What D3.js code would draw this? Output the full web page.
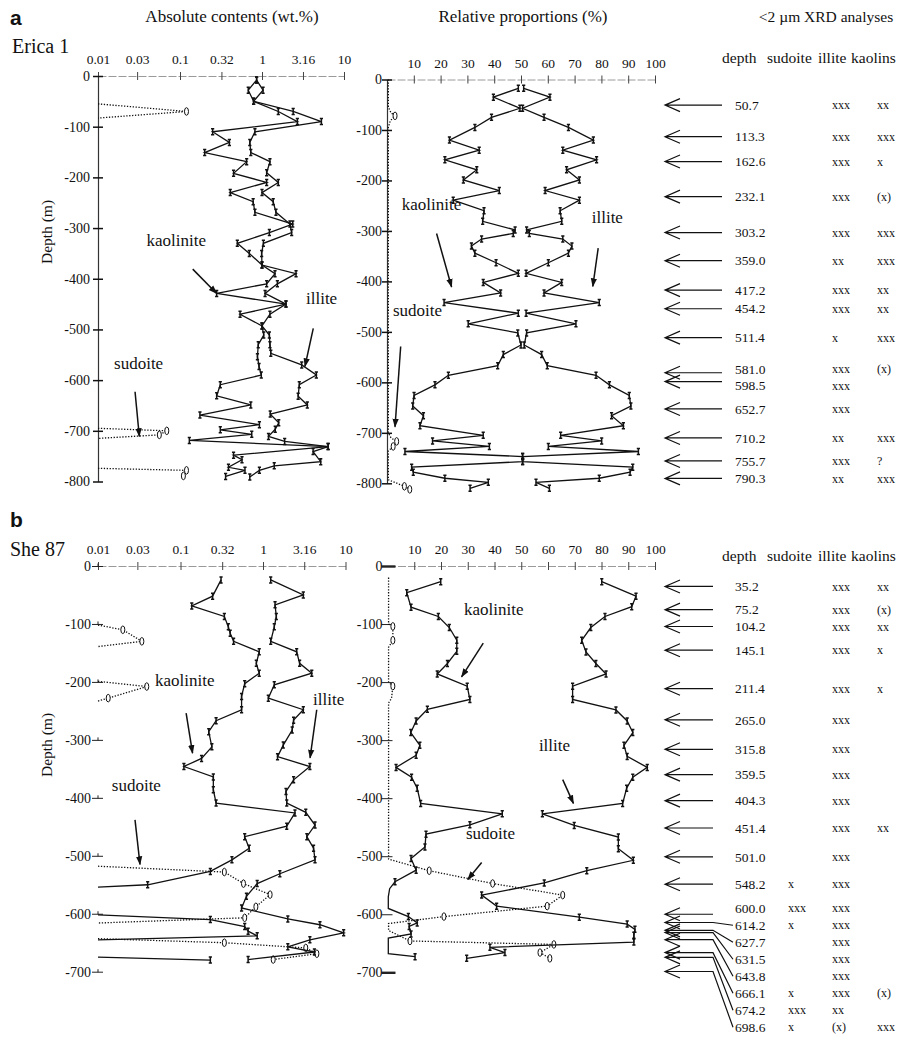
<!DOCTYPE html>
<html>
<head>
<meta charset="utf-8">
<script src="https://cdn.jsdelivr.net/npm/d3@7"></script>
<style>
  body { margin: 0; background: #fff; }
  svg { display: block; }
  text { font-family: "Liberation Serif", "Times New Roman", serif; fill: #111; }
</style>
</head>
<body>
<svg id="chart" width="916" height="1042"></svg>
<script>
// ---------- shared tick values ----------
const absTicks = [0.01, 0.03, 0.1, 0.32, 1, 3.16, 10]
const relTicks = [10, 20, 30, 40, 50, 60, 70, 80, 90, 100]
const depthTicksA = [0, 100, 200, 300, 400, 500, 600, 700, 800]
const depthTicksB = [0, 100, 200, 300, 400, 500, 600, 700]

// ---------- a : Erica 1, absolute contents (wt.%) ----------
const absKaolDepthA = [8, 28, 50, 70, 90, 110, 131, 151, 169, 192, 210, 230, 248, 269, 292, 309, 330, 350, 373, 390, 410, 429, 450, 470, 493, 511, 530, 554, 573, 590, 609, 631, 649, 669, 688, 698, 707, 719, 731, 748, 757, 772, 778, 790]
const absKaolA = [0.86, 0.68, 0.79, 1.58, 2.7, 0.25, 0.4, 0.2, 0.65, 0.45, 1.14, 0.41, 0.78, 0.82, 2.37, 1.23, 0.5, 0.7, 1.0, 1.44, 1.14, 0.28, 1.96, 0.54, 1.0, 1.05, 0.9, 0.88, 0.92, 0.98, 0.31, 0.28, 0.73, 0.175, 0.93, 0.31, 0.75, 0.13, 6.4, 0.45, 0.57, 0.39, 0.62, 0.36]
const absIlliteDepthA = [8, 28, 50, 70, 90, 110, 131, 151, 169, 191, 210, 230, 248, 269, 292, 309, 330, 350, 373, 390, 410, 429, 450, 470, 493, 511, 530, 547, 570, 590, 609, 632, 649, 667, 684, 697, 711, 721, 731, 741, 761, 769, 778, 791]
const absIlliteA = [0.86, 1.03, 0.79, 2.4, 5.3, 0.82, 0.71, 0.73, 1.25, 1.14, 1.58, 1.0, 1.37, 1.48, 2.19, 2.3, 1.04, 0.99, 1.0, 2.6, 1.54, 1.09, 1.96, 1.25, 1.0, 1.23, 1.25, 1.28, 3.05, 4.6, 2.85, 2.76, 3.57, 1.26, 1.6, 1.45, 1.2, 1.89, 6.4, 4.2, 5.2, 1.41, 0.93, 0.71]
// null = break in the dotted line, 0.01 = below detection (drawn on the axis)
const absSudDepthA = [55, 70, 83, 400, 695, 700, 708, 715, 750, 774, 778, 789]
const absSudA = [0.01, 0.12, 0.01, null, 0.01, 0.069, 0.056, 0.01, null, 0.01, 0.12, 0.11]

// ---------- a : Erica 1, relative proportions (%) ----------
const relDepthA = [17.5, 35, 57, 75, 95, 120, 140, 159, 179, 199, 220, 239, 260, 281, 298, 305, 316, 330, 344, 363, 384, 402, 423, 442, 463, 484, 502, 526, 545, 567, 586, 605, 626, 647, 666, 686, 705, 716, 727, 737, 747, 757, 768, 778, 790, 798, 810]
const relKaolA = [49, 39.7, 49.6, 39, 32.8, 23.3, 34.4, 21.6, 33.5, 28.5, 41.9, 24.7, 36.2, 35.7, 47.8, 47.1, 35.3, 31.5, 32.8, 40.7, 49, 35.9, 42.4, 21.3, 49, 30.3, 48.8, 50, 43.4, 41.3, 22.9, 17.9, 10.1, 9.6, 13.6, 12.3, 35.9, 17, 38.2, 6.7, 50.6, 50.6, 9.2, 9.8, 21.6, 37.8, 31]
const relIlliteA = [51, 60.8, 50.6, 58.6, 67.7, 77, 65.6, 78.2, 67, 71.8, 59, 71.8, 64.6, 65.2, 52.1, 53.1, 65.6, 69, 67.7, 60.2, 51.9, 65.2, 58.6, 79.2, 51.9, 70.5, 52.1, 51.2, 57.7, 59.8, 78, 83, 90.4, 91, 83.8, 88.2, 64.8, 80.1, 60.2, 93.8, 50.6, 50.6, 91.7, 90.7, 79.2, 55.6, 60.6]
const relSudDepthA = [0, 55, 66, 72, 82, 95, 700, 710, 717, 727, 736, 793, 806, 812]
const relSudA = [0.5, 0.5, 1.5, 3, 1.2, 0.5, 0.5, 1.5, 3.6, 2.3, 0.5, 0.5, 6.5, 8.5]

// ---------- a : <2 um XRD analyses ----------
const xrdDepthA = ['50.7', '113.3', '162.6', '232.1', '303.2', '359.0', '417.2', '454.2', '511.4', '581.0', '598.5', '652.7', '710.2', '755.7', '790.3']
const xrdSudA = ['', '', '', '', '', '', '', '', '', '', '', '', '', '', '']
const xrdIlliteA = ['xxx', 'xxx', 'xxx', 'xxx', 'xxx', 'xx', 'xxx', 'xxx', 'x', 'xxx', 'xxx', 'xxx', 'xx', 'xxx', 'xx']
const xrdKaolA = ['xx', 'xxx', 'x', '(x)', 'xxx', 'xxx', 'xx', 'xx', 'xxx', '(x)', '', '', 'xxx', '?', 'xxx']

// ---------- b : She 87, absolute contents (wt.%) ----------
const absKaolDepthB = [24, 52, 69, 87, 105, 116, 130, 148, 168, 185, 203, 225, 248, 267, 286, 312, 332, 346, 364, 386, 409, 426, 449, 467, 487, 507, 527, 550, 554, 578, 602, 610, 622, 630, 638, 645, 660, 675, 680]
const absKaolB = [0.31, 0.245, 0.137, 0.34, 0.38, 0.4, 0.44, 0.9, 0.83, 0.9, 0.6, 0.55, 0.55, 0.27, 0.22, 0.24, 0.18, 0.11, 0.25, 0.25, 0.27, 2.44, 1.94, 0.6, 0.68, 0.42, 0.23, 0.04, 0.01, null, 0.01, 0.23, 0.6, 0.66, 0.85, 0.01, null, 0.01, 0.23]
const absIlliteDepthB = [24, 50, 67, 87, 105, 130, 148, 168, 185, 205, 228, 248, 266, 283, 309, 329, 346, 369, 389, 409, 425, 447, 467, 487, 507, 531, 548, 570, 590, 609, 619, 633, 645, 657, 666, 679]
const absIlliteB = [1.24, 3.08, 1.4, 1.45, 1.37, 1.24, 2.56, 2.78, 3.9, 1.37, 1.16, 3.08, 2.35, 2.26, 1.76, 1.5, 3.7, 2.35, 1.9, 1.94, 3.3, 4.27, 3.4, 4.1, 4.27, 1.6, 0.85, 0.63, 0.55, 2.0, 4.9, 9.5, 3.7, 2.0, 4.2, 0.66]
const absSudDepthB = [102, 110, 130, 139, 170, 199, 208, 228, 233, 400, 518, 528, 548, 567, 588, 607, 616, 630, 643, 650, 659, 669, 679]
const absSudB = [0.01, 0.02, 0.034, 0.01, null, 0.01, 0.039, 0.0133, 0.01, null, 0.01, 0.34, 0.58, 1.22, 0.82, 0.6, 0.01, null, 0.01, 0.34, 3.3, 4.5, 1.33]

// ---------- b : She 87, relative proportions (%) ----------
const relKaolDepthB = [27, 46, 71, 87, 106, 128, 147, 168, 186, 207, 230, 247, 267, 287, 309, 326, 347, 364, 383, 409, 427, 446, 462, 484, 504, 524, 544, 556, 570, 590, 604, 615, 621, 634, 641, 668, 673]
const relKaolB = [19.9, 7.2, 8.8, 19, 23.1, 25.9, 25.9, 22.4, 18.6, 29.8, 30.8, 14.9, 10.7, 8.7, 12.1, 10.7, 3.2, 9, 11.1, 12.4, 42.9, 30.8, 14.4, 14, 8.8, 10.7, 2.8, 0.8, 0.3, 0.3, 7.8, 11.1, 8.1, 8.8, 0.3, 0.3, 10.3]
const relIlliteDepthB = [27, 52, 70, 87, 106, 128, 148, 168, 186, 207, 230, 248, 267, 287, 309, 328, 347, 364, 383, 409, 427, 447, 467, 487, 507, 525, 546, 567, 586, 605, 617, 626, 636, 648, 657, 666, 676]
const relIlliteB = [80.1, 92.9, 91.3, 81.3, 76, 72.6, 74.2, 77.9, 81.7, 69.2, 69.2, 85.4, 89.6, 91.7, 88.4, 89.6, 97.1, 91.7, 89.4, 87.9, 57.9, 69.8, 86.3, 86.3, 91.9, 74.5, 58.6, 35.2, 40.8, 71.7, 89.6, 92.5, 92.1, 92.1, 38.3, 43.9, 29.6]
const relSudDepthB = [20, 100, 104, 128, 140, 200, 207, 228, 236, 505, 525, 547, 567, 586, 604, 616, 628, 646, 652, 666, 676]
const relSudB = [0.4, 0.4, 2, 2, 0.4, 0.4, 2, 1.5, 0.4, 0.4, 15.6, 39.3, 65.5, 59.7, 21.1, 0.4, 0.4, 8.4, 62.2, 57, 60.7]

// ---------- b : <2 um XRD analyses ----------
const xrdDepthB = ['35.2', '75.2', '104.2', '145.1', '211.4', '265.0', '315.8', '359.5', '404.3', '451.4', '501.0', '548.2', '600.0', '614.2', '627.7', '631.5', '643.8', '666.1', '674.2', '698.6']
const xrdSudB = ['', '', '', '', '', '', '', '', '', '', '', 'x', 'xxx', 'x', '', '', '', 'x', 'xxx', 'x']
const xrdIlliteB = ['xxx', 'xxx', 'xxx', 'xxx', 'xxx', 'xxx', 'xxx', 'xxx', 'xxx', 'xxx', 'xxx', 'xxx', 'xxx', 'xxx', 'xxx', 'xxx', 'xxx', 'xxx', 'xx', '(x)']
const xrdKaolB = ['xx', '(x)', 'xx', 'x', 'x', '', '', '', '', 'xx', '', '', '', '', '', '', '', '(x)', '', 'xxx']

// ---------- drawing ----------
const SERIF = '"Liberation Serif", "Times New Roman", serif'
const svg = d3.select('#chart')
const zip = (ds, vs) => ds.map((d, i) => ({ d, v: vs[i] }))

svg.append('defs').append('marker')
  .attr('id', 'head').attr('viewBox', '0 0 10 10').attr('refX', 9).attr('refY', 5)
  .attr('markerWidth', 9).attr('markerHeight', 9).attr('markerUnits', 'userSpaceOnUse')
  .attr('orient', 'auto')
  .append('path').attr('d', 'M0,1.5L10,5L0,8.5Z').attr('fill', '#111')

function topAxis (scale, y) {
  const ax = svg.append('g').attr('transform', `translate(0,${y})`)
    .call(d3.axisTop(scale).tickValues(scale.base ? absTicks : relTicks).tickFormat(d => String(d))
      .tickSizeOuter(0).tickSizeInner(0).tickPadding(12))
  ax.attr('font-family', SERIF).attr('font-size', 13.5)
  ax.select('.domain').attr('stroke', '#9a9a9a').attr('stroke-dasharray', '8,2')
  ax.selectAll('.tick line').attr('y1', -4).attr('y2', 4).attr('stroke', '#444')
  ax.selectAll('.tick text').attr('fill', '#111')
  return ax
}

function leftAxis (scale, x, ticks, pad, style) {
  const ax = svg.append('g').attr('transform', `translate(${x},0)`)
    .call(d3.axisLeft(scale).tickValues(ticks).tickFormat(d => d ? '-' + d : '0')
      .tickSizeOuter(0).tickSizeInner(0).tickPadding(pad))
  ax.attr('font-family', SERIF).attr('font-size', 14)
  ax.selectAll('.tick text').attr('fill', '#111')
  if (style === 'line') {
    ax.select('.domain').attr('stroke', '#333').attr('stroke-width', 1.2)
    ax.selectAll('.tick line').attr('x1', -5).attr('x2', 5).attr('stroke', '#111').attr('stroke-width', 1.5)
  } else {
    ax.select('.domain').remove()
    ax.selectAll('.tick line').attr('x1', -6).attr('x2', 5).attr('stroke', '#222').attr('stroke-width', 1)
    if (style === 'dash') {
      ax.selectAll('.tick line').filter(d => d === 0 || d === ticks[ticks.length - 1])
        .attr('x1', -6).attr('x2', 8).attr('stroke-width', 2.4)
    } else {
      ax.selectAll('.tick').append('line').attr('y1', -3).attr('y2', 0).attr('stroke', '#222')
    }
  }
  return ax
}

function series (x, y, pts, kind) {
  const g = svg.append('g')
  const line = d3.line().defined(p => p.v != null).x(p => x(p.v)).y(p => y(p.d))
  g.append('path').datum(pts).attr('d', line).attr('fill', 'none')
    .attr('stroke', '#111').attr('stroke-width', 1.3)
    .attr('stroke-dasharray', kind === 'sud' ? '1.3,1.6' : null)
  if (kind === 'sud') {
    const minV = x.base ? 0.0105 : 1.8
    g.selectAll('ellipse').data(pts.filter(p => p.v != null && p.v > minV)).join('ellipse')
      .attr('cx', p => x(p.v)).attr('cy', p => y(p.d)).attr('rx', 2).attr('ry', 3.8)
      .attr('fill', '#fff').attr('stroke', '#111').attr('stroke-width', 1)
  } else {
    const minV = x.base ? 0.0105 : 1
    g.selectAll('path.m').data(pts.filter(p => p.v != null && p.v > minV)).join('path')
      .attr('class', 'm')
      .attr('d', p => {
        const px = x(p.v), py = y(p.d)
        return `M${px - 1.6},${py - 3}h3.2M${px},${py - 3}v6M${px - 1.6},${py + 3}h3.2`
      })
      .attr('stroke', '#111').attr('stroke-width', 1.5).attr('fill', 'none')
  }
}

function label (x, y, v, d, txt) {
  svg.append('text').attr('x', x(v)).attr('y', y(d)).attr('font-size', 17).text(txt)
}
function arrow (x, y, v0, d0, v1, d1) {
  svg.append('line').attr('x1', x(v0)).attr('y1', y(d0)).attr('x2', x(v1)).attr('y2', y(d1))
    .attr('stroke', '#111').attr('stroke-width', 1.5).attr('marker-end', 'url(#head)')
}

// fanFrom: index of the first row whose label is stacked below the arrows
function xrdTable (y, depths, sud, ill, kao, headerY, lineEnd, fanFrom, fanStep) {
  const g = svg.append('g')
  const hdr = [['depth', 722], ['sudoite', 767], ['illite', 818], ['kaolins', 851]]
  hdr.forEach(([t, hx]) => g.append('text').attr('x', hx).attr('y', headerY).attr('font-size', 15.5).text(t))
  const ays = depths.map(dep => y(+dep))
  const lys = ays.map((ay, i) => i >= fanFrom ? ays[fanFrom] - 6 + (i - fanFrom) * fanStep : ay)
  // spread labels of close-lying arrows
  for (let i = 1; i < fanFrom && i < lys.length; i++) {
    const gap = lys[i] - lys[i - 1]
    if (gap < 16.5) {
      lys[i - 1] -= (16.5 - gap) / 2
      lys[i] = lys[i - 1] + 16.5
    }
  }
  depths.forEach((dep, i) => {
    const ay = ays[i]
    const ly = lys[i]
    const fan = i > fanFrom
    g.append('path')
      .attr('d', `M680,${ay - 6.5}L665,${ay}L680,${ay + 6.5}M665,${ay}H${lineEnd}` + (fan ? `L733,${ly}` : ''))
      .attr('fill', 'none').attr('stroke', '#111').attr('stroke-width', 1.2)
    g.append('text').attr('x', 735).attr('y', ly).attr('dy', '0.35em').attr('font-size', 13.5).text(dep)
    g.append('text').attr('x', 788).attr('y', ly).attr('dy', '0.35em').attr('font-size', 12).text(sud[i])
    g.append('text').attr('x', 832).attr('y', ly).attr('dy', '0.35em').attr('font-size', 12).text(ill[i])
    g.append('text').attr('x', 877).attr('y', ly).attr('dy', '0.35em').attr('font-size', 12).text(kao[i])
  })
}

// ================= panel a =================
const absXA = d3.scaleLog().domain([0.01, 10]).range([98, 344])
const absYA = d3.scaleLinear().domain([0, 800]).range([76, 481.5])
const relXA = d3.scaleLinear().domain([0, 100]).range([387, 655])
const relYA = d3.scaleLinear().domain([0, 800]).range([79.5, 483.3])

svg.append('text').attr('x', 10).attr('y', 25).attr('font-size', 21).attr('font-weight', 'bold')
  .style('font-family', '"Liberation Sans", Arial, sans-serif').text('a')
svg.append('text').attr('x', 12).attr('y', 53).attr('font-size', 20).text('Erica 1')
svg.append('text').attr('x', 232).attr('y', 22).attr('text-anchor', 'middle').attr('font-size', 17).text('Absolute contents (wt.%)')
svg.append('text').attr('x', 523).attr('y', 22).attr('text-anchor', 'middle').attr('font-size', 17).text('Relative proportions (%)')
svg.append('text').attr('x', 826).attr('y', 22).attr('text-anchor', 'middle').attr('font-size', 15.5).text('<2 \u00b5m XRD analyses')
svg.append('text').attr('transform', 'translate(52,232) rotate(-90)').attr('text-anchor', 'middle').attr('font-size', 15.5).text('Depth (m)')

topAxis(absXA, absYA(0))
topAxis(relXA, relYA(0))
leftAxis(absYA, 98, depthTicksA, 8, 'line')
leftAxis(relYA, 387, depthTicksA, 5, 'line')

series(absXA, absYA, zip(absSudDepthA, absSudA), 'sud')
series(absXA, absYA, zip(absKaolDepthA, absKaolA), 'solid')
series(absXA, absYA, zip(absIlliteDepthA, absIlliteA), 'solid')
series(relXA, relYA, zip(relSudDepthA, relSudA), 'sud')
series(relXA, relYA, zip(relDepthA, relKaolA), 'solid')
series(relXA, relYA, zip(relDepthA, relIlliteA), 'solid')

label(absXA, absYA, 0.039, 335, 'kaolinite')
arrow(absXA, absYA, 0.143, 381, 0.28, 429)
label(absXA, absYA, 3.44, 450, 'illite')
arrow(absXA, absYA, 4.22, 498, 3.34, 573)
label(absXA, absYA, 0.0157, 578, 'sudoite')
arrow(absXA, absYA, 0.0283, 623, 0.0319, 711)

label(relXA, relYA, 5.5, 258, 'kaolinite')
arrow(relXA, relYA, 18.5, 305, 24.1, 411)
label(relXA, relYA, 76.4, 284, 'illite')
arrow(relXA, relYA, 78.8, 334, 76.8, 410)
label(relXA, relYA, 2.2, 468, 'sudoite')
arrow(relXA, relYA, 5.1, 529, 3.0, 688)

xrdTable(relYA, xrdDepthA, xrdSudA, xrdIlliteA, xrdKaolA, 63, 722, 99, 0)

// ================= panel b =================
const absXB = d3.scaleLog().domain([0.01, 10]).range([98, 345.5])
const absYB = d3.scaleLinear().domain([0, 700]).range([566, 971.7])
const relXB = d3.scaleLinear().domain([0, 100]).range([387.5, 655])
const relYB = d3.scaleLinear().domain([0, 700]).range([566, 972.3])

svg.append('text').attr('x', 10).attr('y', 527).attr('font-size', 21).attr('font-weight', 'bold')
  .style('font-family', '"Liberation Sans", Arial, sans-serif').text('b')
svg.append('text').attr('x', 10).attr('y', 556).attr('font-size', 20).text('She 87')
svg.append('text').attr('transform', 'translate(52,745) rotate(-90)').attr('text-anchor', 'middle').attr('font-size', 15.5).text('Depth (m)')

topAxis(absXB, absYB(0))
topAxis(relXB, relYB(0))
leftAxis(absYB, 98, depthTicksB, 7, 'plain')
leftAxis(relYB, 387.5, depthTicksB, 5, 'dash')

series(absXB, absYB, zip(absSudDepthB, absSudB), 'sud')
series(absXB, absYB, zip(absKaolDepthB, absKaolB), 'solid')
series(absXB, absYB, zip(absIlliteDepthB, absIlliteB), 'solid')
series(relXB, relYB, zip(relSudDepthB, relSudB), 'sud')
series(relXB, relYB, zip(relKaolDepthB, relKaolB), 'solid')
series(relXB, relYB, zip(relIlliteDepthB, relIlliteB), 'solid')

label(absXB, absYB, 0.049, 207, 'kaolinite')
arrow(absXB, absYB, 0.117, 254, 0.14, 323)
label(absXB, absYB, 4.04, 240, 'illite')
arrow(absXB, absYB, 4.48, 248, 3.72, 331)
label(absXB, absYB, 0.0147, 388, 'sudoite')
arrow(absXB, absYB, 0.0281, 438, 0.0323, 515)

label(relXB, relYB, 28.6, 84, 'kaolinite')
arrow(relXB, relYB, 35.8, 133, 27.7, 191)
label(relXB, relYB, 56.6, 319, 'illite')
arrow(relXB, relYB, 65.5, 368, 69.5, 409)
label(relXB, relYB, 29.3, 471, 'sudoite')
arrow(relXB, relYB, 35.2, 511, 30, 540)

xrdTable(relYB, xrdDepthB, xrdSudB, xrdIlliteB, xrdKaolB, 561, 713, 12, 17)
</script>
</body>
</html>
